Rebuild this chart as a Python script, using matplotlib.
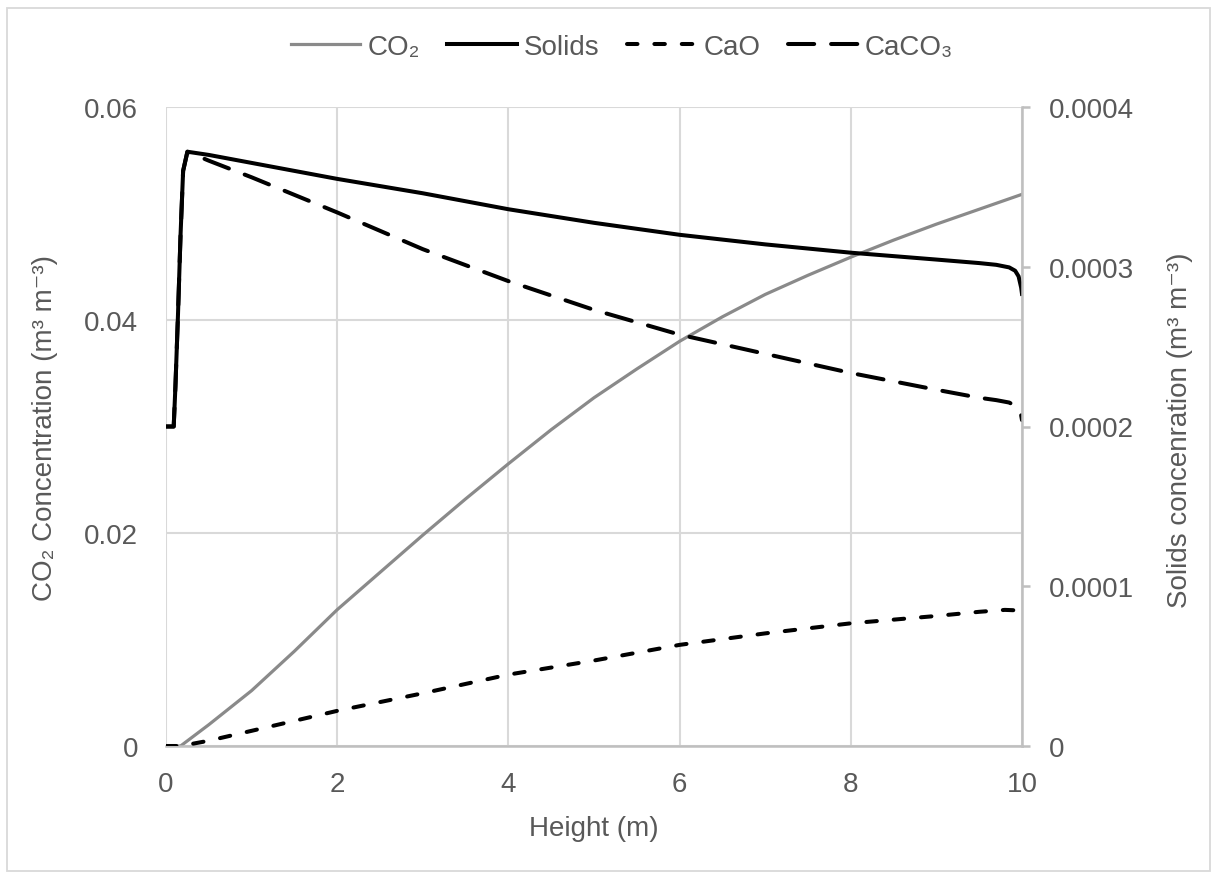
import numpy as np
import matplotlib
matplotlib.use("Agg")
import matplotlib.pyplot as plt
from matplotlib.patches import Rectangle
from matplotlib.ticker import FuncFormatter

# Gas phase CO2 volume fraction along the riser (left axis)
x_co2 = [0, 0.17, 0.5, 1, 1.5, 2, 2.5, 3, 3.5, 4, 4.5, 5, 5.5, 6, 6.5, 7, 7.5,
         8, 8.5, 9, 9.5, 10]
co2 = [0, 0, 0.0020, 0.0052, 0.0089, 0.0128, 0.0163, 0.0198, 0.0232, 0.0265,
       0.0297, 0.0327, 0.0354, 0.0380, 0.0403, 0.0424, 0.0442, 0.0459, 0.0475,
       0.0490, 0.0504, 0.0518]

# Solids and CaCO3 volume fractions (right axis, units of 1e-4)
x_sol = [0, 0.09, 0.11, 0.14, 0.17, 0.2, 0.25, 0.5, 1, 2, 3, 4, 5, 6, 7, 8, 9,
         9.5, 9.7, 9.85, 9.92, 9.96, 9.99, 10]
solids = [2.0, 2.0, 2.25, 2.7, 3.2, 3.6, 3.72, 3.70, 3.65, 3.55, 3.46, 3.36, 3.275,
          3.20, 3.14, 3.088, 3.045, 3.023, 3.012, 2.996, 2.975, 2.94, 2.87, 2.83]
caco3 = [2.0, 2.0, 2.25, 2.7, 3.2, 3.6, 3.72, 3.664, 3.56, 3.34, 3.11, 2.91, 2.73,
         2.575, 2.455, 2.335, 2.23, 2.18, 2.165, 2.15, 2.13, 2.11, 2.07, 2.04]

# CaO volume fraction (right axis, units of 1e-4)
x_cao = [0, 0.17, 0.5, 1, 2, 3, 4, 5, 6, 7, 8, 9, 9.5, 9.8, 9.9, 9.96, 10]
cao = [0, 0, 0.033, 0.095, 0.22, 0.33, 0.447, 0.535, 0.633, 0.705, 0.768, 0.814,
       0.84, 0.852, 0.85, 0.83, 0.80]

x_ticks = [0, 2, 4, 6, 8, 10]
left_ticks = [0, 0.02, 0.04, 0.06]
right_ticks = [0, 0.0001, 0.0002, 0.0003, 0.0004]

plt.rcParams["font.family"] = ["Liberation Sans", "DejaVu Sans"]
txt = "#595959"
grid_c = "#d9d9d9"
axis_c = "#bfbfbf"
fs = 20

W, H = 1214, 879
fig = plt.figure(figsize=(W / 100, H / 100), dpi=100)
fig.patch.set_facecolor("white")

# chart border
fig.add_artist(Rectangle((7 / W, 1 - 872 / H), (1210 - 7) / W, (872 - 9) / H,
                         transform=fig.transFigure, fill=False,
                         edgecolor=grid_c, linewidth=1.3))

ax1 = fig.add_axes([166 / W, 1 - 747 / H, 856 / W, 639 / H])
ax2 = ax1.twinx()

# CO2 on the primary axis
l1, = ax1.plot(x_co2, co2, color="#8a8a8a", lw=2.3, label="CO\u2082",
               solid_joinstyle="round")

# solids on the secondary axis
sc = 1e-4
l2, = ax2.plot(x_sol, np.array(solids) * sc, color="black", lw=2.9,
               label="Solids", solid_joinstyle="round")
l3, = ax2.plot(x_cao, np.array(cao) * sc, color="black", lw=2.9,
               dashes=(2.6, 4.2), dash_capstyle="round", label="CaO")
l4, = ax2.plot(x_sol, np.array(caco3) * sc, color="black", lw=2.9,
               dashes=(6.5, 4.2), dash_capstyle="round", label="CaCO\u2083")

ax1.set_xlim(0, 10)
ax1.set_ylim(0, 0.06)
ax2.set_ylim(0, 0.0004)

ax1.set_xticks(x_ticks)
ax1.set_yticks(left_ticks)
ax2.set_yticks(right_ticks)
ax1.yaxis.set_major_formatter(FuncFormatter(lambda v, p: "0" if v == 0 else f"{v:.2f}"))
ax2.yaxis.set_major_formatter(FuncFormatter(lambda v, p: "0" if v == 0 else f"{v:.4f}"))

ax1.grid(True, color=grid_c, lw=1.5)
ax1.set_axisbelow(True)

for a in (ax1, ax2):
    for s in a.spines.values():
        s.set_visible(False)
ax1.spines["bottom"].set_visible(True)
ax1.spines["bottom"].set_color(axis_c)
ax1.spines["bottom"].set_linewidth(1.8)
ax2.spines["right"].set_visible(True)
ax2.spines["right"].set_color(axis_c)
ax2.spines["right"].set_linewidth(1.8)

ax1.tick_params(axis="x", length=0, pad=18, labelsize=fs, labelcolor=txt)
ax1.tick_params(axis="y", length=0, pad=20, labelsize=fs, labelcolor=txt)
ax2.tick_params(axis="y", length=6, width=1.8, color=axis_c, direction="out",
                pad=13, labelsize=fs, labelcolor=txt)

# axis titles
fig.text(594 / W, 1 - 829 / H, "Height (m)", ha="center", va="center",
         fontsize=fs, color=txt)
fig.text(45 / W, 1 - 428 / H, "CO\u2082 Concentration (m\u00b3 m\u207b\u00b3)",
         rotation=90, ha="center", va="center", fontsize=fs, color=txt)
fig.text(1180 / W, 1 - 430 / H, "Solids concenration (m\u00b3 m\u207b\u00b3)",
         rotation=90, ha="center", va="center", fontsize=fs, color=txt)

fig.legend(handles=[l1, l2, l3, l4], loc="center", ncol=4,
           bbox_to_anchor=(622 / W, 1 - 48 / H), frameon=False, fontsize=fs,
           labelcolor=txt, handlelength=2.5, handletextpad=0.25,
           columnspacing=1.0)

fig.savefig("out.png", dpi=100, facecolor="white")
